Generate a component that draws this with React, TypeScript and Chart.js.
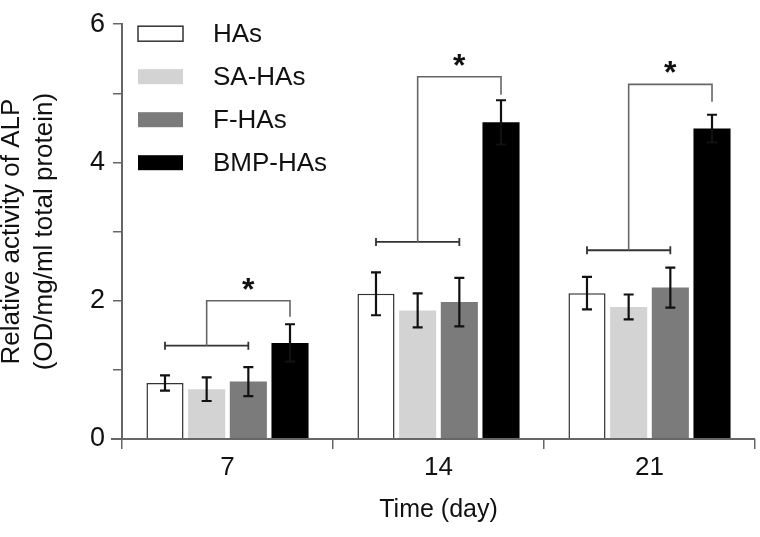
import React, { useEffect, useRef } from "react";
import { Chart, registerables } from "chart.js";

Chart.register(...registerables);

const categories = ["7", "14", "21"];
const seriesNames = ["HAs", "SA-HAs", "F-HAs", "BMP-HAs"];
const hasValues = [0.81, 2.1, 2.11];
const saValues = [0.72, 1.86, 1.91];
const fValues = [0.83, 1.98, 2.19];
const bmpValues = [1.39, 4.58, 4.49];
const hasErr = [0.11, 0.31, 0.235];
const saErr = [0.17, 0.245, 0.18];
const fErr = [0.21, 0.35, 0.29];
const bmpErr = [0.27, 0.32, 0.2];
const bracketLow = [1.35, 2.85, 2.73];
const bracketHigh = [2.0, 5.24, 5.13];
const bracketDrop = [1.77, 4.98, 4.88];
const yTicks = [0, 2, 4, 6];

const FONT = "'Liberation Sans', Arial, sans-serif";
const fills = ["#ffffff", "#d3d3d3", "#7b7b7b", "#000000"];
const borders = ["#333333", "#d3d3d3", "#7b7b7b", "#000000"];

const errors = [hasErr, saErr, fErr, bmpErr];

const overlay = {
  id: "overlay",
  afterDatasetsDraw(chart: any) {
    const ctx = chart.ctx;
    const y = chart.scales.y;
    const area = chart.chartArea;
    ctx.save();
    chart.data.datasets.forEach((ds: any, di: number) => {
      const meta = chart.getDatasetMeta(di);
      meta.data.forEach((bar: any, i: number) => {
        const v = ds.data[i];
        const e = errors[di][i];
        const x = bar.x;
        const yt = y.getPixelForValue(v + e);
        const yb = y.getPixelForValue(v - e);
        ctx.strokeStyle = "#111";
        ctx.lineWidth = 2.2;
        ctx.beginPath();
        ctx.moveTo(x, yt);
        ctx.lineTo(x, yb);
        ctx.moveTo(x - 5, yt);
        ctx.lineTo(x + 5, yt);
        ctx.moveTo(x - 5, yb);
        ctx.lineTo(x + 5, yb);
        ctx.stroke();
      });
    });
    categories.forEach((_c, i) => {
      const x0 = chart.getDatasetMeta(0).data[i].x;
      const x2 = chart.getDatasetMeta(2).data[i].x;
      const x3 = chart.getDatasetMeta(3).data[i].x;
      const xm = (x0 + x2) / 2;
      const yl = y.getPixelForValue(bracketLow[i]);
      const yh = y.getPixelForValue(bracketHigh[i]);
      const yd = y.getPixelForValue(bracketDrop[i]);
      ctx.strokeStyle = "#333";
      ctx.lineWidth = 1.8;
      ctx.beginPath();
      ctx.moveTo(x0, yl);
      ctx.lineTo(x2, yl);
      ctx.moveTo(x0, yl - 4);
      ctx.lineTo(x0, yl + 4);
      ctx.moveTo(x2, yl - 4);
      ctx.lineTo(x2, yl + 4);
      ctx.stroke();
      ctx.strokeStyle = "#666";
      ctx.lineWidth = 1.6;
      ctx.beginPath();
      ctx.moveTo(xm, yl);
      ctx.lineTo(xm, yh);
      ctx.lineTo(x3, yh);
      ctx.lineTo(x3, yd);
      ctx.stroke();
      ctx.fillStyle = "#111";
      ctx.font = `bold 32px ${FONT}`;
      ctx.textAlign = "center";
      ctx.textBaseline = "middle";
      ctx.fillText("*", (xm + x3) / 2, yh - 10);
    });
    ctx.strokeStyle = "#666";
    ctx.lineWidth = 2;
    ctx.beginPath();
    ctx.moveTo(area.left - 11, area.bottom);
    ctx.lineTo(area.right, area.bottom);
    ctx.stroke();
    chart.data.datasets.forEach((ds: any, di: number) => {
      const bx = area.left + 16;
      const by = area.top + 2 + di * 43;
      ctx.fillStyle = fills[di];
      ctx.fillRect(bx, by, 45, 15);
      if (di === 0) {
        ctx.strokeStyle = "#333";
        ctx.lineWidth = 1.5;
        ctx.strokeRect(bx, by, 45, 15);
      }
      ctx.fillStyle = "#111";
      ctx.font = `26px ${FONT}`;
      ctx.textAlign = "left";
      ctx.textBaseline = "middle";
      ctx.fillText(ds.label, area.left + 91, by + 9);
    });
    ctx.restore();
  },
};

export default function App() {
  const ref = useRef<HTMLCanvasElement>(null);
  useEffect(() => {
    if (!ref.current) return;
    const values = [hasValues, saValues, fValues, bmpValues];
    const chart = new Chart(ref.current, {
      type: "bar",
      data: {
        labels: categories,
        datasets: seriesNames.map((name, i) => ({
          label: name,
          data: values[i],
          backgroundColor: fills[i],
          borderColor: borders[i],
          borderWidth: i === 0 ? 1.5 : 0,
          categoryPercentage: 0.79,
          barPercentage: 0.89,
        })),
      },
      options: {
        animation: false,
        responsive: true,
        maintainAspectRatio: false,
        layout: { padding: { top: 18, right: 5, left: 0, bottom: 0 } },
        plugins: { legend: { display: false }, tooltip: { enabled: false } },
        scales: {
          x: {
            grid: { drawOnChartArea: false, drawTicks: true, tickLength: 10, color: "#666", lineWidth: 1.5 },
            border: { display: false },
            ticks: { color: "#111", font: { family: FONT, size: 26 }, padding: 3 },
            title: {
              display: true,
              text: "Time (day)",
              color: "#111",
              font: { family: FONT, size: 25 },
              padding: { top: 0, bottom: 12 },
            },
            afterFit: (s: any) => {
              s.height = 98;
            },
          },
          y: {
            min: 0,
            max: 6,
            ticks: {
              stepSize: 1,
              color: "#111",
              font: { family: FONT, size: 27 },
              padding: 8,
              callback: (v: any) => (yTicks.includes(Number(v)) ? String(v) : ""),
            },
            grid: { drawOnChartArea: false, drawTicks: true, tickLength: 9, color: "#666", lineWidth: 1.5 },
            border: { display: true, color: "#666", width: 2 },
            title: {
              display: true,
              text: ["Relative activity of ALP", "(OD/mg/ml total protein)"],
              color: "#111",
              font: { family: FONT, size: 26, lineHeight: 1.25 },
              padding: { top: -4, bottom: 0 },
            },
            afterFit: (s: any) => {
              s.width = 122;
            },
          },
        },
      },
      plugins: [overlay],
    });
    return () => chart.destroy();
  }, []);
  return (
    <div style={{ position: "fixed", left: 0, top: 0, width: 760, height: 537, background: "#fff" }}>
      <canvas ref={ref} />
    </div>
  );
}
